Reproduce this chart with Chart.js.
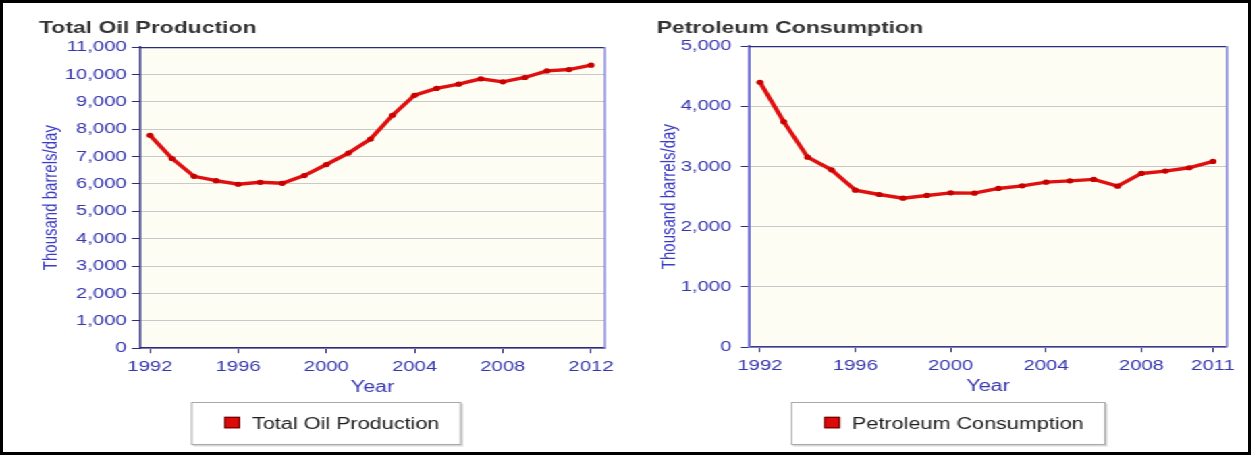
<!DOCTYPE html>
<html>
<head>
<meta charset="utf-8">
<script src="https://cdn.jsdelivr.net/npm/chart.js@4.4.1/dist/chart.umd.min.js"></script>
<style>
  html, body { margin: 0; padding: 0; background: #ffffff; width: 1257px; height: 456px; overflow: hidden; }
  #frame { position: absolute; left: 0; top: 0; width: 1251px; height: 455px; border: 3px solid #000; box-sizing: border-box; z-index: 5; pointer-events: none; }
  #stage { position: absolute; left: 0; top: 0; width: 931px; height: 456px; transform: scaleX(1.35); transform-origin: 0 0; }
  canvas { position: absolute; top: 0; }
</style>
</head>
<body>
<div id="frame"></div>
<div id="stage">
  <canvas id="c1" width="465" height="456" style="left:0;width:465px;height:456px"></canvas>
  <canvas id="c2" width="466" height="456" style="left:465px;width:466px;height:456px"></canvas>
</div>
<script>
// ---------- data ----------
const productionYears = [1992, 1993, 1994, 1995, 1996, 1997, 1998, 1999, 2000, 2001, 2002, 2003, 2004, 2005, 2006, 2007, 2008, 2009, 2010, 2011, 2012];
const oilProduction   = [7780, 6930, 6280, 6120, 5990, 6060, 6025, 6305, 6710, 7130, 7640, 8510, 9240, 9490, 9645, 9840, 9730, 9890, 10130, 10180, 10340];

const consumptionYears = [1992, 1993, 1994, 1995, 1996, 1997, 1998, 1999, 2000, 2001, 2002, 2003, 2004, 2005, 2006, 2007, 2008, 2009, 2010, 2011];
const petroleumConsumption = [4400, 3743, 3156, 2945, 2608, 2536, 2475, 2520, 2563, 2558, 2636, 2680, 2741, 2762, 2786, 2674, 2885, 2924, 2980, 3085];

const productionXTicks  = [1992, 1996, 2000, 2004, 2008, 2012];
const consumptionXTicks = [1992, 1996, 2000, 2004, 2008, 2011];
const productionYTicks  = [0, 1000, 2000, 3000, 4000, 5000, 6000, 7000, 8000, 9000, 10000, 11000];
const consumptionYTicks = [0, 1000, 2000, 3000, 4000, 5000];

const titles = ['Total Oil Production', 'Petroleum Consumption'];
const yTitle = 'Thousand barrels/day';
const xTitle = 'Year';

// ---------- styles ----------
const FONT = "'Liberation Sans', Arial, sans-serif";
const TICK_BLUE = '#3636ae';
const TITLE_BLUE = '#3c3cc4';
const LINE_RED = '#e01010';

const framePlugin = {
  id: 'framePlugin',
  beforeDraw(chart, args, o) {
    const {ctx, chartArea: a} = chart;
    ctx.save();
    ctx.fillStyle = '#fdfdf3';
    ctx.fillRect(a.left, a.top, a.right - a.left, a.bottom - a.top);
    ctx.restore();
  },
  afterDraw(chart, args, o) {
    const {ctx, chartArea: a} = chart;
    ctx.save();
    // top border
    ctx.strokeStyle = '#2b2b80';
    ctx.lineWidth = 1.2;
    ctx.beginPath(); ctx.moveTo(a.left, a.top + 0.5); ctx.lineTo(a.right, a.top + 0.5); ctx.stroke();
    // right border
    ctx.strokeStyle = '#8a8ae0';
    ctx.lineWidth = 1.6;
    ctx.beginPath(); ctx.moveTo(a.right, a.top); ctx.lineTo(a.right, a.bottom); ctx.stroke();
    ctx.restore();

    // legend box
    const L = o.legend;
    ctx.save();
    ctx.font = '16px ' + FONT;
    const tw = ctx.measureText(L.text).width;
    const w = 24.6 + 11.7 + 8.9 + tw + 16.2;
    const x = L.x, y = 402, h = 43;
    ctx.fillStyle = '#d8d8d8';
    ctx.fillRect(x + 1.5, y + 1.5, w, h);
    ctx.fillStyle = '#ffffff';
    ctx.fillRect(x, y, w, h);
    ctx.strokeStyle = '#a8a8a8';
    ctx.lineWidth = 1;
    ctx.strokeRect(x + 0.5, y + 0.5, w - 1, h - 1);
    // marker
    ctx.fillStyle = '#dd0a0a';
    ctx.fillRect(x + 24.6, 416.8, 11.7, 11.5);
    ctx.strokeStyle = '#5a0000';
    ctx.lineWidth = 1;
    ctx.strokeRect(x + 24.6 + 0.5, 416.8 + 0.5, 10.7, 10.5);
    ctx.fillStyle = '#1e1e1e';
    ctx.textBaseline = 'middle';
    ctx.fillText(L.text, x + 24.6 + 11.7 + 8.9, 424.2);
    ctx.restore();
  }
};

function makeChart(id, cfg) {
  const points = cfg.years.map((yr, i) => ({x: yr, y: cfg.values[i]}));
  return new Chart(document.getElementById(id), {
    type: 'line',
    data: {
      datasets: [{
        label: cfg.title,
        data: points,
        borderColor: LINE_RED,
        backgroundColor: '#cc0000',
        borderWidth: 3.4,
        pointRadius: 2.6,
        pointBorderWidth: 0,
        pointBackgroundColor: '#c80000',
        tension: 0,
        fill: false
      }]
    },
    options: {
      responsive: false,
      animation: false,
      devicePixelRatio: 1,
      layout: { padding: { left: cfg.padLeft, right: cfg.padRight, top: 0, bottom: cfg.padBottom } },
      plugins: {
        legend: { display: false },
        tooltip: { enabled: false },
        title: {
          display: true,
          text: cfg.title,
          align: 'start',
          color: '#333333',
          font: { family: FONT, size: 17, weight: 'bold' },
          padding: { top: 18.2, bottom: cfg.titleBottom }
        },
        framePlugin: { legend: { text: cfg.title, x: cfg.legendX } }
      },
      scales: {
        x: {
          type: 'linear',
          min: cfg.xMin,
          max: cfg.xMax,
          afterBuildTicks: (s) => { s.ticks = cfg.xTicks.map(v => ({value: v})); },
          afterFit: (s) => { s.height = 50; },
          ticks: {
            autoSkip: false, maxRotation: 0, padding: 5,
            color: TICK_BLUE,
            font: { family: FONT, size: 15 },
            callback: (v) => String(v)
          },
          grid: { drawOnChartArea: false, drawTicks: true, tickLength: 5, tickColor: '#2b2b80', tickWidth: 1 },
          border: { display: true, color: cfg.bottomColor, width: 1.5 },
          title: {
            display: true, text: xTitle, color: TICK_BLUE,
            font: { family: FONT, size: 16 },
            padding: { top: 0, bottom: 1.5 }
          }
        },
        y: {
          min: 0,
          max: cfg.yTicks[cfg.yTicks.length - 1],
          afterBuildTicks: (s) => { s.ticks = cfg.yTicks.map(v => ({value: v})); },
          afterFit: (s) => { s.width = cfg.yWidth; },
          ticks: {
            padding: cfg.yTickPad,
            color: TICK_BLUE,
            font: { family: FONT, size: 15 },
            callback: (v) => v.toLocaleString('en-US')
          },
          grid: { color: '#c9c9c9', lineWidth: 1, tickLength: 6, tickColor: '#2b2b80', tickWidth: 1 },
          border: { display: true, color: cfg.leftColor, width: cfg.leftWidth },
          title: {
            display: true, text: yTitle, color: TITLE_BLUE,
            font: { family: FONT, size: 15 },
            padding: { top: 0, bottom: 0 }
          }
        }
      }
    },
    plugins: [framePlugin]
  });
}

makeChart('c1', {
  title: titles[0],
  years: productionYears,
  values: oilProduction,
  xTicks: productionXTicks,
  yTicks: productionYTicks,
  xMin: 1991.55, xMax: 2012.63,
  padLeft: 28.9, padRight: 16.9, padBottom: 57.8,
  yWidth: 74.8, yTickPad: 3.8,
  titleBottom: 8.5,
  leftColor: '#2b2b80', leftWidth: 1.5, bottomColor: '#2b2b80',
  legendX: 141.5
});

makeChart('c2', {
  title: titles[1],
  years: consumptionYears,
  values: petroleumConsumption,
  xTicks: consumptionXTicks,
  yTicks: consumptionYTicks,
  xMin: 1991.54, xMax: 2011.59,
  padLeft: 21.4, padRight: 22.1, padBottom: 58.8,
  yWidth: 68.4, yTickPad: 7,
  titleBottom: 7.5,
  leftColor: '#7272d8', leftWidth: 2, bottomColor: '#3a3a98',
  legendX: 120.9
});
</script>
</body>
</html>
